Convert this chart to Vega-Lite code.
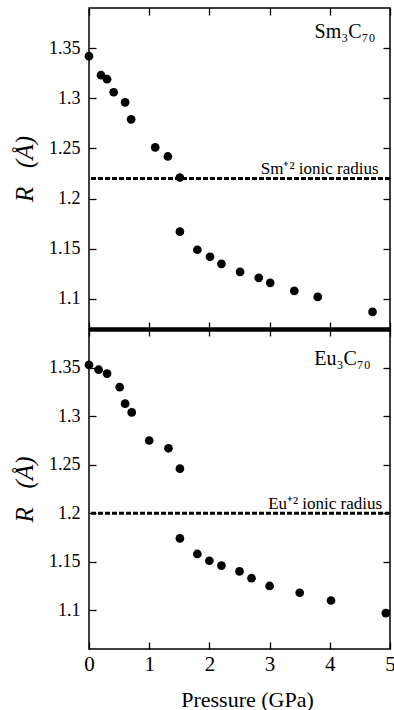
{
  "$schema": "https://vega.github.io/schema/vega-lite/v6.json",
  "padding": {"top": 6, "left": 11, "right": 3, "bottom": 0},
  "background": "white",
  "spacing": 0,
  "bounds": "flush",
  "config": {
    "font": "Liberation Serif",
    "view": {"stroke": "black", "strokeWidth": 1.5},
    "axis": {
      "grid": false,
      "domain": false,
      "tickColor": "black",
      "tickWidth": 1.3,
      "tickSize": -7,
      "labelColor": "black",
      "titleColor": "black",
      "labelFont": "Liberation Serif",
      "titleFont": "Liberation Serif",
      "titleFontWeight": "normal",
      "labelFlush": false
    }
  },
  "datasets": {
    "sm": [
      {"P": 0, "R": 1.342}, {"P": 0.2, "R": 1.323}, {"P": 0.3, "R": 1.319},
      {"P": 0.41, "R": 1.306}, {"P": 0.6, "R": 1.296}, {"P": 0.7, "R": 1.279},
      {"P": 1.1, "R": 1.251}, {"P": 1.31, "R": 1.242}, {"P": 1.51, "R": 1.221},
      {"P": 1.51, "R": 1.167}, {"P": 1.8, "R": 1.149}, {"P": 2.01, "R": 1.142},
      {"P": 2.2, "R": 1.135}, {"P": 2.51, "R": 1.127}, {"P": 2.82, "R": 1.121},
      {"P": 3.01, "R": 1.116}, {"P": 3.41, "R": 1.108}, {"P": 3.8, "R": 1.102},
      {"P": 4.71, "R": 1.087}
    ],
    "eu": [
      {"P": 0, "R": 1.353}, {"P": 0.16, "R": 1.348}, {"P": 0.3, "R": 1.344},
      {"P": 0.51, "R": 1.33}, {"P": 0.6, "R": 1.313}, {"P": 0.71, "R": 1.304},
      {"P": 1.0, "R": 1.275}, {"P": 1.32, "R": 1.267}, {"P": 1.51, "R": 1.246},
      {"P": 1.51, "R": 1.174}, {"P": 1.8, "R": 1.158}, {"P": 2.0, "R": 1.151},
      {"P": 2.2, "R": 1.146}, {"P": 2.5, "R": 1.14}, {"P": 2.7, "R": 1.133},
      {"P": 3.0, "R": 1.125}, {"P": 3.5, "R": 1.118}, {"P": 4.02, "R": 1.11},
      {"P": 4.93, "R": 1.097}
    ]
  },
  "vconcat": [
    {
      "width": 301,
      "height": 321,
      "resolve": {"axis": {"x": "independent", "y": "independent"}},
      "layer": [
        {
          "data": {"name": "sm"},
          "mark": {"type": "circle", "color": "black", "size": 76, "opacity": 1},
          "encoding": {
            "x": {"field": "P", "type": "quantitative", "scale": {"domain": [0, 5]},
              "axis": {"orient": "bottom", "values": [0, 1, 2, 3, 4, 5], "labels": false, "title": null, "domain": true, "domainWidth": 4, "domainColor": "black"}},
            "y": {"field": "R", "type": "quantitative", "scale": {"domain": [1.07, 1.39]},
              "axis": {"orient": "left", "values": [1.1, 1.15, 1.2, 1.25, 1.3, 1.35], "format": "~g", "labelFontSize": 18, "labelPadding": 16, "title": "R \u2002(Å)", "titleFontStyle": "italic", "titleFontSize": 25, "titlePadding": 11}}
          }
        },
        {
          "data": {"values": [{"ion": 1.22}]},
          "mark": {"type": "rule", "color": "black", "strokeWidth": 3, "strokeDash": [5, 2]},
          "encoding": {
            "y": {"field": "ion", "type": "quantitative", "scale": {"domain": [1.07, 1.39]},
              "axis": {"orient": "right", "values": [1.1, 1.15, 1.2, 1.25, 1.3, 1.35], "labels": false, "title": null}}
          }
        },
        {
          "data": {"values": [{"P": 4.76, "R": 1.36, "label": "Sm₃C₇₀"}]},
          "mark": {"type": "text", "align": "right", "baseline": "alphabetic", "fontSize": 20, "color": "black", "font": "Liberation Serif"},
          "encoding": {
            "x": {"field": "P", "type": "quantitative", "scale": {"domain": [0, 5]},
              "axis": {"orient": "top", "values": [0, 1, 2, 3, 4, 5], "labels": false, "title": null}},
            "y": {"field": "R", "type": "quantitative", "scale": {"domain": [1.07, 1.39]}, "axis": null},
            "text": {"field": "label"}
          }
        },
        {
          "data": {"values": [{"P": 4.81, "R": 1.2244, "label": "Sm⁺² ionic radius"}]},
          "mark": {"type": "text", "align": "right", "baseline": "alphabetic", "fontSize": 17, "color": "black", "font": "Liberation Serif"},
          "encoding": {
            "x": {"field": "P", "type": "quantitative", "scale": {"domain": [0, 5]}, "axis": null},
            "y": {"field": "R", "type": "quantitative", "scale": {"domain": [1.07, 1.39]}, "axis": null},
            "text": {"field": "label"}
          }
        }
      ]
    },
    {
      "width": 301,
      "height": 320,
      "resolve": {"axis": {"x": "independent", "y": "independent"}},
      "layer": [
        {
          "data": {"name": "eu"},
          "mark": {"type": "circle", "color": "black", "size": 76, "opacity": 1},
          "encoding": {
            "x": {"field": "P", "type": "quantitative", "scale": {"domain": [0, 5]},
              "axis": {"orient": "bottom", "values": [0, 1, 2, 3, 4, 5], "format": "~g", "labelFontSize": 21, "labelPadding": 11, "title": "Pressure (GPa)", "titleFontSize": 22, "titlePadding": 15, "titleX": 158, "titleAlign": "center"}},
            "y": {"field": "R", "type": "quantitative", "scale": {"domain": [1.06, 1.39]},
              "axis": {"orient": "left", "values": [1.1, 1.15, 1.2, 1.25, 1.3, 1.35], "format": "~g", "labelFontSize": 18, "labelPadding": 16, "title": "R \u2002(Å)", "titleFontStyle": "italic", "titleFontSize": 25, "titlePadding": 11}}
          }
        },
        {
          "data": {"values": [{"ion": 1.2}]},
          "mark": {"type": "rule", "color": "black", "strokeWidth": 3, "strokeDash": [5, 2]},
          "encoding": {
            "y": {"field": "ion", "type": "quantitative", "scale": {"domain": [1.06, 1.39]},
              "axis": {"orient": "right", "values": [1.1, 1.15, 1.2, 1.25, 1.3, 1.35], "labels": false, "title": null}}
          }
        },
        {
          "data": {"values": [{"P": 4.68, "R": 1.3528, "label": "Eu₃C₇₀"}]},
          "mark": {"type": "text", "align": "right", "baseline": "alphabetic", "fontSize": 20, "color": "black", "font": "Liberation Serif"},
          "encoding": {
            "x": {"field": "P", "type": "quantitative", "scale": {"domain": [0, 5]},
              "axis": {"orient": "top", "values": [0, 1, 2, 3, 4, 5], "labels": false, "title": null, "domain": true, "domainWidth": 4, "domainColor": "black"}},
            "y": {"field": "R", "type": "quantitative", "scale": {"domain": [1.06, 1.39]}, "axis": null},
            "text": {"field": "label"}
          }
        },
        {
          "data": {"values": [{"P": 4.87, "R": 1.2045, "label": "Eu⁺² ionic radius"}]},
          "mark": {"type": "text", "align": "right", "baseline": "alphabetic", "fontSize": 17, "color": "black", "font": "Liberation Serif"},
          "encoding": {
            "x": {"field": "P", "type": "quantitative", "scale": {"domain": [0, 5]}, "axis": null},
            "y": {"field": "R", "type": "quantitative", "scale": {"domain": [1.06, 1.39]}, "axis": null},
            "text": {"field": "label"}
          }
        }
      ]
    }
  ]
}
